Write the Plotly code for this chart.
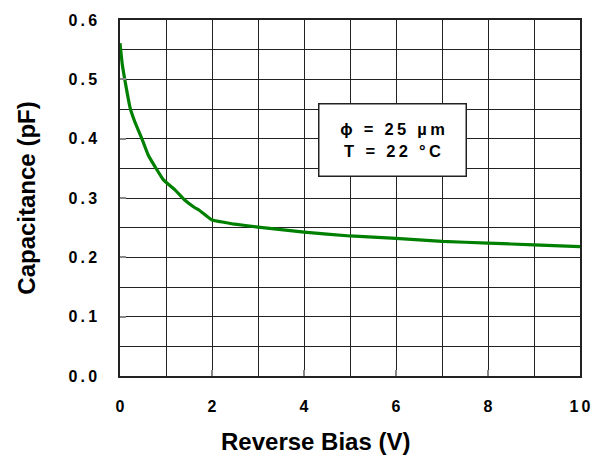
import plotly.graph_objects as go

bias_v = [0, 0.05, 0.11, 0.22, 0.32, 0.47, 0.61, 0.76, 0.94, 1.19, 1.40, 1.62, 1.73,
          2.0, 2.27, 2.45, 3.0, 4.0, 5.0, 6.0, 7.0, 8.0, 9.0, 10.0]
cap_pf = [0.561, 0.525, 0.497, 0.452, 0.429, 0.401, 0.373, 0.353, 0.331, 0.314, 0.297,
          0.284, 0.279, 0.263, 0.259, 0.2565, 0.251, 0.2425, 0.236, 0.232, 0.227, 0.224,
          0.221, 0.218]
x_ticks = [0, 2, 4, 6, 8, 10]
y_ticks = [0.0, 0.1, 0.2, 0.3, 0.4, 0.5, 0.6]
note_lines = ["ϕ = 25 µm", "T = 22 °C"]
x_title = "Reverse Bias (V)"
y_title = "Capacitance (pF)"

FONT = "Liberation Sans, Arial, sans-serif"
TS = "\u2009"  # thin space for the wide letter spacing of the original


def spaced(s):
    return TS.join(s).replace(TS + " " + TS, TS + "\u00a0" + TS)


fig = go.Figure()
fig.add_trace(go.Scatter(x=bias_v, y=cap_pf, mode="lines",
                         line=dict(color="#008000", width=3.2, shape="spline", smoothing=0.4),
                         showlegend=False))

axis_common = dict(showline=True, mirror=True, linecolor="#222", linewidth=1.5,
                   showgrid=True, gridcolor="#222", gridwidth=1, zeroline=False,
                   ticks="inside", ticklen=6, tickcolor="#888", tickwidth=2,
                   tickfont=dict(family=FONT, size=16, color="black", weight="bold"))

fig.update_xaxes(range=[0, 10], tickvals=x_ticks, ticktext=[spaced(str(v)) for v in x_ticks],
                 minor=dict(dtick=1, showgrid=True, gridcolor="#222", gridwidth=1),
                 ticklabelstandoff=15,
                 **axis_common)
fig.update_yaxes(range=[0, 0.6], tickvals=y_ticks,
                 ticktext=[spaced(f"{v:.1f}") for v in y_ticks],
                 minor=dict(dtick=0.05, showgrid=True, gridcolor="#222", gridwidth=1),
                 ticklabelstandoff=18,
                 title=dict(text=f"<b>{y_title}</b>", standoff=26,
                            font=dict(family=FONT, size=24, color="black")),
                 **axis_common)

fig.add_annotation(x=0.425, y=-0.185, xref="paper", yref="paper", text=f"<b>{x_title}</b>",
                   showarrow=False, xanchor="center", yanchor="middle",
                   font=dict(family=FONT, size=24, color="black"))

fig.add_annotation(x=5.93, y=0.3975, xref="x", yref="y",
                   text="<b>" + "<br>".join(spaced(s) for s in note_lines) + "</b>",
                   showarrow=False,
                   font=dict(family=FONT, size=16.5, color="black"),
                   bgcolor="white", bordercolor="#222", borderwidth=1.5,
                   width=144, height=69, align="center", valign="middle")

fig.update_layout(width=603, height=458, margin=dict(l=120, r=20, t=20, b=82),
                  plot_bgcolor="white", paper_bgcolor="white")

fig.write_html("out.html")
